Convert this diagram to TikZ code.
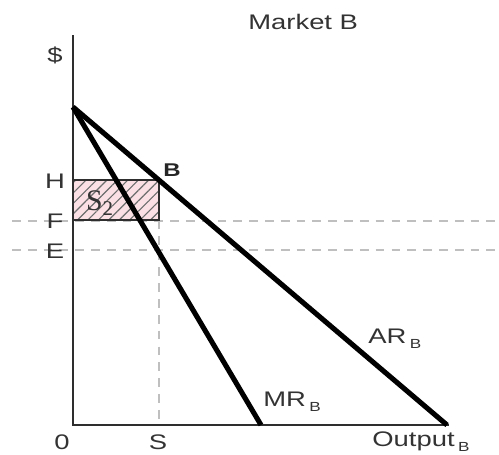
\documentclass[tikz,border=0pt]{standalone}
\usepackage{fontspec}
\setmainfont{Liberation Sans}[FakeStretch=1.3]
\newfontfamily\boxfont{Liberation Serif}
\usetikzlibrary{patterns.meta}
\definecolor{hatchpink}{HTML}{FBE1E5}
\definecolor{inkgray}{HTML}{2E2E2E}
\newcommand{\lowsub}[1]{\,\raisebox{-0.45ex}{\fontsize{7.5}{8}\selectfont #1}}
\tikzset{
  axis/.style={draw=inkgray, line width=1.4pt},
  curve/.style={draw=black, line width=2.9pt},
  guide/.style={draw=gray!50, dash pattern=on 5pt off 4pt, line width=0.7pt},
  surplus/.style={draw=inkgray, line width=0.9pt, fill=hatchpink},
  lbl/.style={font=\fontsize{12}{13}\selectfont, text=black!80, inner sep=0pt},
}

\begin{document}
\begin{tikzpicture}[x=0.02cm, y=-0.02cm]
  \useasboundingbox (0,0) rectangle (499,454);

  % key points
  \coordinate (o) at (73,425);
  \coordinate (ytop) at (73,35);
  \coordinate (xend) at (449,425);
  \coordinate (pint) at (73,107);
  \coordinate (arend) at (447,425);
  \coordinate (mrend) at (261,425);
  \coordinate (hpt) at (73,180);
  \coordinate (bpt) at (159,180);
  \coordinate (fpt) at (159,220);
  \coordinate (spt) at (159,425);
  \coordinate (fl) at (12,221);
  \coordinate (fr) at (499,221);
  \coordinate (el) at (12,250);
  \coordinate (er) at (499,250);

  % guides
  \draw [guide] (fl) -- (fr);
  \draw [guide] (el) -- (er);
  \draw [guide] (fpt) -- (spt);

  % surplus box
  \draw [surplus] (hpt) rectangle (fpt);
  \path [pattern={Lines[angle=45, distance=4.2pt, line width=0.65pt]}, pattern color=inkgray!70]
    (hpt) rectangle (fpt);
  \draw [inkgray, line width=0.9pt] (hpt) rectangle (fpt);

  % axes and curves
  \draw [axis] (ytop) -- (o) -- (xend);
  \draw [curve] (pint) -- (arend);
  \draw [curve] (pint) -- (mrend);

  % labels
  \node (title) [lbl, anchor=west] at (248,22) {Market B};
  \node (dollar) [lbl] at (55,55) {\$};
  \node (lblh) [lbl] at (55,181) {H};
  \node (lblf) [lbl] at (55,221) {F};
  \node (lble) [lbl] at (55,251) {E};
  \node (lblb) [lbl, font=\fontsize{10.5}{12}\selectfont\bfseries, text=black!85] at (172,170) {B};
  \node (lbls2) [lbl, font=\boxfont\fontsize{17}{18}\selectfont] at (100,203) {S\textsubscript{2}};
  \node (lblo) [lbl] at (62,442) {0};
  \node (lbls) [lbl] at (158,442) {S};
  \node (lblout) [lbl, anchor=west] at (372,442) {Output\lowsub{B}};
  \node (lblar) [lbl, anchor=west] at (368,339) {AR\lowsub{B}};
  \node (lblmr) [lbl, anchor=west] at (263,402) {MR\lowsub{B}};

\end{tikzpicture}
\end{document}
